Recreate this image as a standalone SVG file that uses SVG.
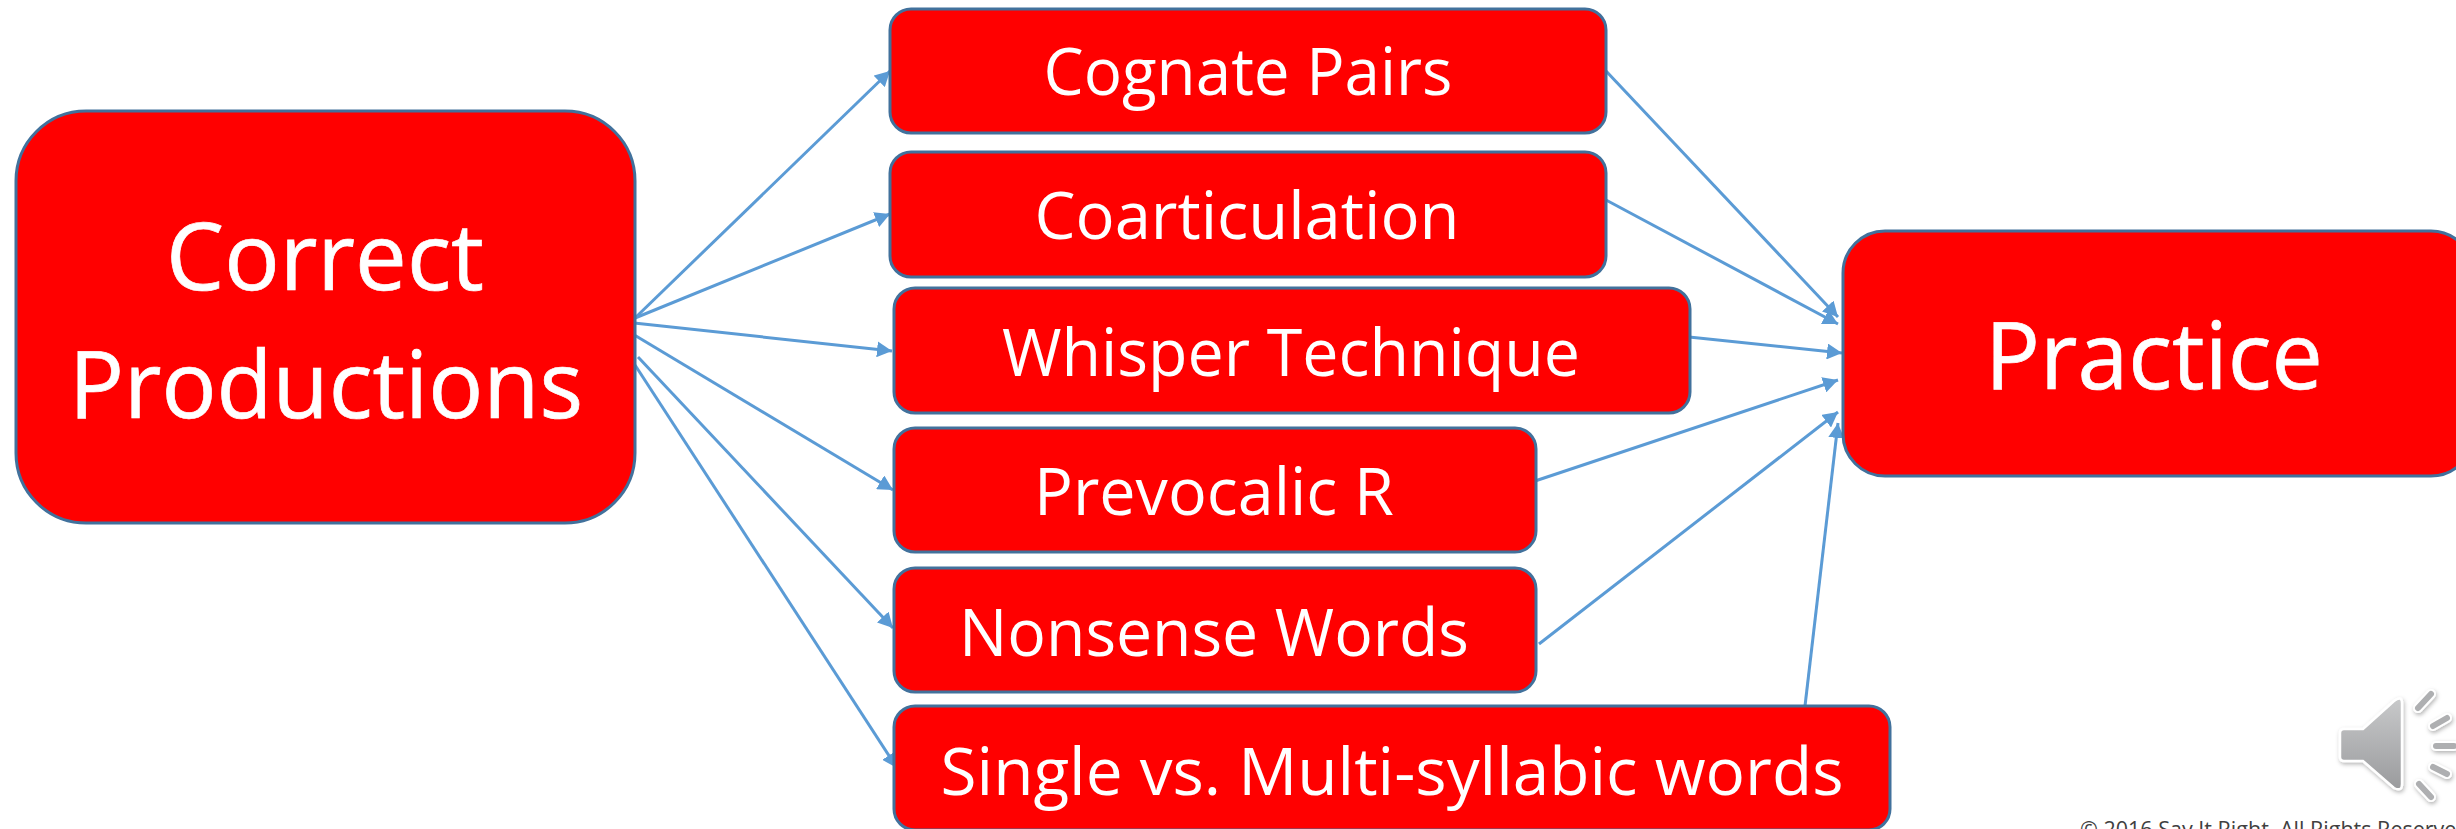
<svg xmlns="http://www.w3.org/2000/svg" width="2456" height="829" viewBox="0 0 2456 829">
<defs>
<style>
.n{fill:#ff0000;stroke:#41719c;stroke-width:3}
.t{fill:#fff;font-family:"Open Sans","Noto Sans",sans-serif;text-anchor:middle}
.b{font-size:93px;stroke:#fff;stroke-width:.7px}
.s{font-size:65px}
.c{stroke:#5b9bd5;stroke-width:3;fill:none;marker-end:url(#a)}
</style>
<marker id="a" markerUnits="userSpaceOnUse" markerWidth="16" markerHeight="16" refX="15" refY="8" orient="auto"><path d="M0 0L15 8L0 16z" fill="#5b9bd5"/></marker>
<linearGradient id="g" x1="0" y1="0" x2="0" y2="1"><stop offset="0" stop-color="#c8c9ca"/><stop offset="1" stop-color="#9a9b9d"/></linearGradient>
<filter id="sh" x="-30%" y="-30%" width="160%" height="160%"><feDropShadow dx="1" dy="2" stdDeviation="2" flood-color="#000" flood-opacity="0.3"/></filter>
</defs>
<rect width="2456" height="829" fill="#fff"/>
<g id="connectors">
<path class="c" d="M635 318L890 71"/>
<path class="c" d="M635 318L890 214"/>
<path class="c" d="M634 323L892 351"/>
<path class="c" d="M631 333L893 490"/>
<path class="c" d="M638 357L893 628"/>
<path class="c" d="M635 365L897 768"/>
<path class="c" d="M1606 71L1838 317"/>
<path class="c" d="M1606 200L1838 324"/>
<path class="c" d="M1689 337L1842 353"/>
<path class="c" d="M1535 481L1838 380"/>
<path class="c" d="M1539 644L1838 412"/>
<path class="c" d="M1805 706L1838 423"/>
</g>
<g id="correct-productions"><rect class="n" x="16" y="111" width="619" height="412" rx="70"/><text class="t b" x="325" y="290" textLength="318" lengthAdjust="spacingAndGlyphs">Correct</text><text class="t b" x="326" y="418" textLength="514" lengthAdjust="spacingAndGlyphs">Productions</text></g>
<g id="cognate-pairs"><rect class="n" x="890" y="9" width="716" height="124" rx="21"/><text class="t s" x="1248" y="95" textLength="409" lengthAdjust="spacingAndGlyphs">Cognate Pairs</text></g>
<g id="coarticulation"><rect class="n" x="890" y="152" width="716" height="125" rx="21"/><text class="t s" x="1247" y="239" textLength="425" lengthAdjust="spacingAndGlyphs">Coarticulation</text></g>
<g id="whisper-technique"><rect class="n" x="894" y="288" width="796" height="125" rx="21"/><text class="t s" x="1291" y="376" textLength="578" lengthAdjust="spacingAndGlyphs">Whisper Technique</text></g>
<g id="prevocalic-r"><rect class="n" x="894" y="428" width="642" height="124" rx="21"/><text class="t s" x="1214" y="515" textLength="360" lengthAdjust="spacingAndGlyphs">Prevocalic R</text></g>
<g id="nonsense-words"><rect class="n" x="894" y="568" width="642" height="124" rx="21"/><text class="t s" x="1214" y="656" textLength="510" lengthAdjust="spacingAndGlyphs">Nonsense Words</text></g>
<g id="single-multi"><rect class="n" x="894" y="706" width="996" height="124" rx="21"/><text class="t s" x="1392" y="795" textLength="903" lengthAdjust="spacingAndGlyphs">Single vs. Multi-syllabic words</text></g>
<g id="practice"><rect class="n" x="1843" y="231" width="630" height="245" rx="42"/><text class="t b" x="2154" y="389" textLength="338" lengthAdjust="spacingAndGlyphs">Practice</text></g>
<g id="speaker" filter="url(#sh)">
<path d="M2344 729H2363L2394 701Q2402 695 2402 703V784Q2402 792 2394 788L2363 761H2344Q2340 761 2340 757V733Q2340 729 2344 729z" fill="url(#g)" stroke="#fff" stroke-width="2.5"/>
<g stroke="#fff" stroke-width="10" stroke-linecap="round"><path d="M2418 708L2431 694"/><path d="M2433 726L2447 718"/><path d="M2436 746H2454"/><path d="M2433 767L2447 774"/><path d="M2419 784L2431 797"/></g>
<g stroke="#aeafb1" stroke-width="6" stroke-linecap="round"><path d="M2418 708L2431 694"/><path d="M2433 726L2447 718"/><path d="M2436 746H2454"/><path d="M2433 767L2447 774"/><path d="M2419 784L2431 797"/></g>
</g>
<text id="copyright" x="2080" y="837" font-family="'Open Sans',sans-serif" font-size="21.5" fill="#404040">© 2016 Say It Right. All Rights Reserved</text>
</svg>
